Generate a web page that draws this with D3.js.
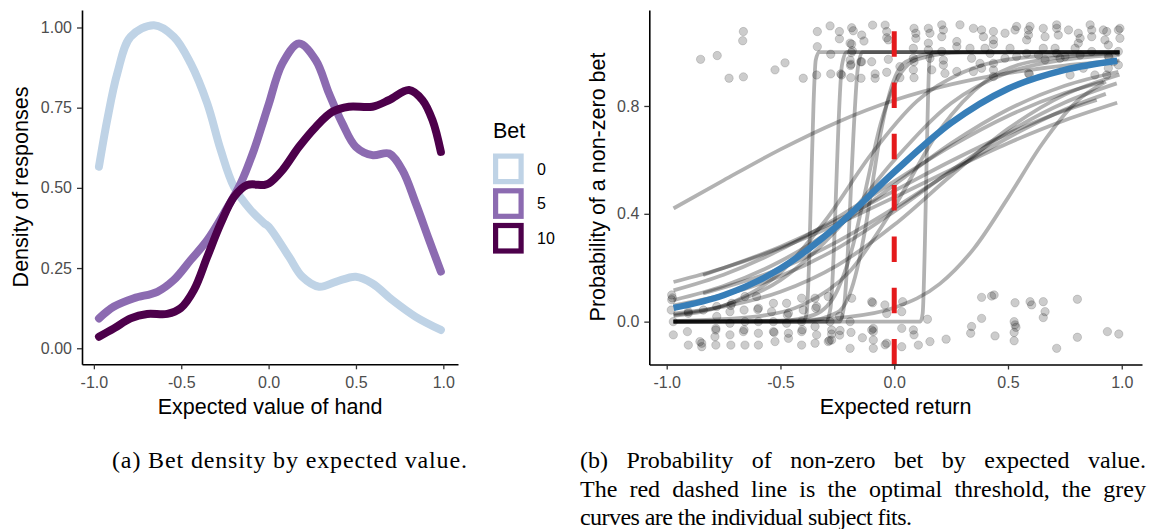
<!DOCTYPE html>
<html>
<head>
<meta charset="utf-8">
<script src="https://cdn.jsdelivr.net/npm/d3@7"></script>
<style>
  html, body { margin: 0; padding: 0; background: #fff; }
  svg { display: block; }
</style>
</head>
<body>
<svg id="fig" width="1149" height="529"></svg>
<script>
// ---------------------------------------------------------------
// Panel (a): density of responses by expected value, one curve per bet
// ---------------------------------------------------------------
const betLevels = ["0", "5", "10"];
const betColors = ["#BFD3E6", "#8C6BB1", "#4D004B"];

const densityBet0 = [
  [-0.971, 0.566], [-0.924, 0.711], [-0.866, 0.857], [-0.790, 0.971], [-0.656, 1.007],
  [-0.542, 0.971], [-0.446, 0.888], [-0.351, 0.763], [-0.274, 0.618], [-0.198, 0.503],
  [-0.103, 0.431], [-0.026, 0.390], [0.002, 0.378], [0.117, 0.285], [0.193, 0.223],
  [0.289, 0.192], [0.384, 0.207], [0.499, 0.223], [0.594, 0.202], [0.709, 0.150],
  [0.842, 0.098], [0.986, 0.057]
];
const densityBet5 = [
  [-0.971, 0.093], [-0.885, 0.130], [-0.771, 0.156], [-0.637, 0.176], [-0.542, 0.213],
  [-0.446, 0.275], [-0.351, 0.337], [-0.255, 0.421], [-0.160, 0.514], [-0.084, 0.618],
  [-0.026, 0.715], [0.002, 0.763], [0.079, 0.888], [0.174, 0.950], [0.270, 0.898],
  [0.346, 0.794], [0.422, 0.701], [0.499, 0.628], [0.594, 0.602], [0.690, 0.607],
  [0.766, 0.555], [0.842, 0.452], [0.919, 0.337], [0.986, 0.239]
];
const densityBet10 = [
  [-0.971, 0.036], [-0.885, 0.062], [-0.790, 0.093], [-0.695, 0.107], [-0.580, 0.107],
  [-0.503, 0.125], [-0.427, 0.182], [-0.351, 0.285], [-0.274, 0.389], [-0.198, 0.472],
  [-0.122, 0.509], [-0.026, 0.509], [0.002, 0.514], [0.079, 0.555], [0.174, 0.628],
  [0.270, 0.690], [0.365, 0.737], [0.460, 0.753], [0.594, 0.753], [0.690, 0.774],
  [0.804, 0.805], [0.880, 0.774], [0.938, 0.711], [0.986, 0.612]
];

const xTicksA = [-1, -0.5, 0, 0.5, 1];
const xTickLabelsA = ["-1.0", "-0.5", "0.0", "0.5", "1.0"];
const yTicksA = [0, 0.25, 0.5, 0.75, 1];
const yTickLabelsA = ["0.00", "0.25", "0.50", "0.75", "1.00"];

// ---------------------------------------------------------------
// Panel (b): probability of a non-zero bet by expected return
// ---------------------------------------------------------------
// jittered responses: [expected return, 1 = non-zero bet / 0 = zero bet]
const responsesBet = [
  [-0.851, 0.973], [-0.778, 0.987], [-0.726, 0.903], [-0.666, 1.042], [-0.663, 1.076],
  [-0.663, 0.908], [-0.524, 0.934], [-0.480, 0.960], [-0.400, 0.903], [-0.338, 1.076],
  [-0.338, 1.020], [-0.341, 0.915], [-0.282, 1.097], [-0.279, 0.992], [-0.279, 0.919],
  [-0.241, 1.076], [-0.241, 1.049], [-0.235, 0.919], [-0.231, 0.915], [-0.187, 1.090],
  [-0.180, 1.079], [-0.187, 1.029], [-0.184, 1.005], [-0.188, 0.998], [-0.194, 0.970],
  [-0.190, 0.955], [-0.192, 0.950], [-0.191, 0.905], [-0.194, 1.033], [-0.143, 1.063],
  [-0.133, 1.041], [-0.147, 0.964], [-0.146, 0.903], [-0.143, 0.964], [-0.099, 0.964],
  [-0.095, 1.100], [-0.084, 0.919], [-0.084, 0.903], [-0.040, 1.100], [-0.033, 1.076],
  [-0.033, 1.053], [-0.026, 0.973], [-0.033, 0.925], [-0.026, 1.045], [0.025, 0.946],
  [0.025, 0.905], [0.087, 1.088], [0.095, 1.070], [0.095, 1.051], [0.087, 0.964],
  [0.084, 0.934], [0.087, 0.905], [0.084, 1.014], [0.084, 0.977],
  [0.150, 1.088], [0.157, 1.070], [0.150, 1.033], [0.150, 1.008], [0.157, 0.977],
  [0.165, 0.934], [0.209, 1.101], [0.216, 1.082], [0.209, 1.057], [0.209, 1.002],
  [0.216, 0.952], [0.223, 0.921], [0.216, 0.970], [0.275, 1.039], [0.275, 1.020],
  [0.275, 0.928], [0.289, 1.101], [0.333, 1.014], [0.340, 0.977], [0.348, 0.928],
  [0.348, 1.088], [0.377, 0.958], [0.384, 0.940], [0.384, 1.082], [0.392, 1.057],
  [0.399, 1.014], [0.421, 0.995], [0.436, 1.076], [0.436, 1.045], [0.436, 1.029],
  [0.436, 0.958], [0.436, 0.934], [0.436, 0.909], [0.487, 1.070], [0.487, 0.977],
  [0.509, 1.014], [0.531, 1.082], [0.538, 1.095], [0.538, 0.983], [0.582, 1.045],
  [0.590, 1.082], [0.590, 1.063], [0.597, 1.095], [0.582, 0.995], [0.590, 0.921],
  [0.594, 0.918], [0.634, 0.989], [0.655, 1.088], [0.655, 1.014], [0.663, 1.057],
  [0.663, 0.971], [0.707, 1.014], [0.714, 1.101], [0.714, 1.088], [0.721, 1.063],
  [0.714, 0.995], [0.729, 0.977], [0.751, 0.983], [0.766, 1.082], [0.773, 0.915],
  [0.795, 1.014], [0.809, 1.070], [0.817, 1.051], [0.809, 1.033], [0.817, 0.989],
  [0.831, 0.940], [0.861, 1.101], [0.868, 1.082], [0.868, 1.057], [0.868, 1.002],
  [0.882, 0.915], [0.919, 1.082], [0.934, 1.076], [0.926, 1.045], [0.941, 1.026],
  [0.941, 0.940], [0.934, 0.915], [0.941, 0.985], [0.944, 0.980], [0.963, 0.964],
  [0.985, 1.082], [0.992, 1.088], [0.992, 1.051], [0.985, 1.002], [0.985, 0.952]
];
const responsesNoBet = [
  [-0.978, 0.099], [-0.978, 0.081], [-0.980, 0.043], [-0.971, 0.000], [-0.971, -0.049],
  [-0.975, 0.088], [-0.905, 0.037], [-0.909, -0.037], [-0.905, -0.087], [-0.905, 0.031],
  [-0.854, -0.074], [-0.846, -0.093], [-0.839, 0.043], [-0.846, -0.080], [-0.780, 0.056],
  [-0.780, 0.019], [-0.784, -0.031], [-0.788, -0.056], [-0.784, -0.087], [-0.784, -0.025],
  [-0.714, 0.068], [-0.722, 0.037], [-0.722, -0.006], [-0.722, -0.049], [-0.718, -0.087],
  [-0.718, 0.060], [-0.656, 0.093], [-0.660, 0.043], [-0.656, 0.000], [-0.663, -0.037],
  [-0.656, -0.087], [-0.660, -0.030], [-0.605, 0.093], [-0.597, 0.050], [-0.597, 0.000],
  [-0.597, -0.043], [-0.597, -0.087], [-0.600, 0.045], [-0.531, 0.068], [-0.539, 0.037],
  [-0.531, 0.000], [-0.531, -0.037], [-0.524, -0.074], [-0.528, -0.040], [-0.473, 0.068],
  [-0.465, 0.031], [-0.473, -0.006], [-0.465, -0.043], [-0.465, -0.062], [-0.470, 0.025],
  [-0.407, 0.087], [-0.400, 0.043], [-0.407, 0.000], [-0.407, -0.037], [-0.407, -0.087],
  [-0.404, -0.030], [-0.348, 0.087], [-0.341, 0.056], [-0.348, -0.018], [-0.341, -0.049],
  [-0.348, -0.080], [-0.345, 0.050], [-0.290, 0.093], [-0.282, 0.000], [-0.275, -0.031],
  [-0.290, -0.074], [-0.275, -0.068], [-0.285, -0.070], [-0.275, -0.046], [-0.240, -0.050],
  [-0.240, 0.020], [-0.238, -0.033], [-0.187, 0.087], [-0.194, -0.099], [-0.190, -0.040],
  [-0.194, 0.000], [-0.140, -0.060], [-0.099, 0.074], [-0.095, 0.070], [-0.099, -0.031],
  [-0.092, -0.068], [-0.092, -0.099], [-0.092, -0.025], [-0.092, -0.037], [-0.041, 0.062],
  [-0.033, -0.080], [-0.033, 0.030], [-0.040, -0.086],
  [0.037, 0.074], [0.033, 0.037], [0.033, -0.025], [0.084, -0.031], [0.087, -0.049],
  [0.033, -0.093], [0.106, -0.087], [0.146, 0.009], [0.157, -0.074], [0.228, -0.065],
  [0.340, -0.018], [0.336, -0.043], [0.384, 0.090], [0.428, 0.095], [0.439, 0.099],
  [0.384, 0.012], [0.443, -0.053], [0.531, 0.070], [0.527, 0.000], [0.531, -0.012],
  [0.535, -0.021], [0.527, -0.040], [0.527, -0.071], [0.597, 0.074], [0.604, 0.062],
  [0.655, 0.074], [0.663, 0.037], [0.655, 0.015], [0.714, -0.099], [0.805, 0.083],
  [0.805, -0.058], [0.937, -0.037], [0.987, -0.046]
];

// individual subject fits: [expected return, fitted probability]
const subjectFits = [
  [[-0.97, 0.420], [-0.75, 0.524], [-0.5, 0.639], [-0.25, 0.740], [0, 0.821], [0.25, 0.880], [0.5, 0.922], [0.75, 0.950], [0.99, 0.968]],
  [[-0.97, 0.147], [-0.75, 0.199], [-0.5, 0.273], [-0.25, 0.362], [0, 0.461], [0.25, 0.564], [0.5, 0.662], [0.75, 0.747], [0.98, 0.812]],
  [[-0.97, 0.116], [-0.75, 0.174], [-0.5, 0.267], [-0.25, 0.386], [0, 0.520], [0.25, 0.651], [0.5, 0.763], [0.75, 0.848], [0.92, 0.890]],
  [[-0.84, 0.173], [-0.5, 0.278], [-0.25, 0.376], [0, 0.485], [0.25, 0.596], [0.5, 0.697], [0.75, 0.783], [0.89, 0.822]],
  [[-0.84, 0.105], [-0.5, 0.197], [-0.25, 0.297], [0, 0.421], [0.25, 0.556], [0.5, 0.682], [0.75, 0.787], [0.93, 0.845]],
  [[-0.97, 0.080], [-0.75, 0.132], [-0.5, 0.224], [-0.25, 0.353], [0, 0.507], [0.25, 0.661], [0.5, 0.787], [0.75, 0.875], [0.985, 0.927]],
  [[-0.97, 0.030], [-0.75, 0.056], [-0.5, 0.111], [-0.25, 0.209], [0, 0.359], [0.25, 0.542], [0.5, 0.715], [0.75, 0.842], [0.99, 0.916]],
  [[-0.97, 0.060], [-0.75, 0.099], [-0.5, 0.169], [-0.25, 0.272], [0, 0.409], [0.25, 0.560], [0.5, 0.702], [0.75, 0.813], [0.978, 0.884]],
  [[-0.97, 0.025], [-0.75, 0.060], [-0.5, 0.154], [-0.25, 0.343], [0, 0.599], [0.25, 0.810], [0.5, 0.924], [0.75, 0.972], [0.99, 0.990]],
  [[-0.97, 0.000], [-0.4, 0.0013], [-0.25, 0.034], [-0.18, 0.142], [-0.13, 0.331], [-0.098, 0.500], [-0.06, 0.698], [-0.02, 0.848], [0.05, 0.963], [0.2, 0.9986], [0.99, 1.000]],
  [[-0.97, 0.000], [-0.5, 0.0024], [-0.35, 0.026], [-0.25, 0.116], [-0.18, 0.287], [-0.123, 0.500], [-0.06, 0.733], [0, 0.877], [0.1, 0.973], [0.3, 0.9988], [0.99, 1.000]],
  [[-0.97, 0.0003], [-0.5, 0.0035], [-0.2, 0.0177], [0, 0.0514], [0.2, 0.140], [0.35, 0.271], [0.5, 0.459], [0.65, 0.659], [0.8, 0.815], [0.93, 0.890]],
  [[-0.97, 0.0022], [-0.6, 0.0198], [-0.4, 0.063], [-0.2, 0.182], [0, 0.426], [0.2, 0.711], [0.4, 0.891], [0.6, 0.964], [0.99, 0.9965]],
  [[-0.97, 0.021], [-0.7, 0.076], [-0.5, 0.182], [-0.3, 0.378], [-0.1, 0.622], [0.1, 0.818], [0.3, 0.924], [0.6, 0.982], [0.99, 0.9974]],
  [[-0.97, 0], [-0.40, 0], [-0.385, 0.03], [-0.375, 0.2], [-0.365, 0.5], [-0.355, 0.8], [-0.345, 0.97], [-0.33, 1], [0.99, 1]],
  [[-0.97, 0], [-0.30, 0], [-0.28, 0.05], [-0.265, 0.27], [-0.255, 0.5], [-0.245, 0.73], [-0.23, 0.95], [-0.21, 1], [0.99, 1]],
  [[-0.97, 0], [-0.24, 0], [-0.22, 0.06], [-0.20, 0.32], [-0.19, 0.5], [-0.18, 0.68], [-0.16, 0.94], [-0.14, 1], [0.99, 1]],
  [[-0.97, 0], [0.115, 0], [0.125, 0.03], [0.135, 0.3], [0.14, 0.5], [0.145, 0.7], [0.155, 0.97], [0.17, 1], [0.99, 1]]
];

// pooled fit across all subjects
const pooledFit = [
  [-0.97, 0.051], [-0.75, 0.098], [-0.5, 0.197], [-0.25, 0.356], [0, 0.555],
  [0.25, 0.737], [0.5, 0.864], [0.75, 0.934], [0.98, 0.968]
];

const optimalThreshold = 0;

const xTicksB = [-1, -0.5, 0, 0.5, 1];
const xTickLabelsB = ["-1.0", "-0.5", "0.0", "0.5", "1.0"];
const yTicksB = [0, 0.4, 0.8];
const yTickLabelsB = ["0.0", "0.4", "0.8"];

// ---------------------------------------------------------------
const SANS = "'Liberation Sans', Arial, Helvetica, sans-serif";
const SERIF = "'Liberation Serif', 'Times New Roman', serif";
const TITLE_SIZE = 21.5;
const svg = d3.select("#fig");

function styleAxis(g) {
  g.select(".domain").attr("stroke", "#000").attr("stroke-width", 1.6);
  g.selectAll(".tick line").attr("stroke", "#333").attr("stroke-width", 1.3);
  g.selectAll(".tick text")
    .attr("fill", "#4D4D4D")
    .attr("font-size", 16)
    .attr("font-family", SANS);
}

// ----- panel (a)
const xA = d3.scaleLinear().domain([-1.068, 1.084]).range([82, 458]);
const yA = d3.scaleLinear().domain([-0.05, 1.0545]).range([364.3, 10]);

const gA = svg.append("g");

const densityLine = d3.line()
  .x(d => xA(d[0]))
  .y(d => yA(d[1]))
  .curve(d3.curveCatmullRom.alpha(0.5));

[densityBet0, densityBet5, densityBet10].forEach((series, i) => {
  gA.append("path")
    .datum(series)
    .attr("d", densityLine)
    .attr("fill", "none")
    .attr("stroke", betColors[i])
    .attr("stroke-width", 8)
    .attr("stroke-linecap", "round")
    .attr("stroke-linejoin", "round");
});

gA.append("g")
  .attr("transform", "translate(0,364.3)")
  .call(d3.axisBottom(xA).tickValues(xTicksA)
    .tickFormat((d, i) => xTickLabelsA[i])
    .tickSize(5).tickSizeOuter(0).tickPadding(7))
  .call(styleAxis);

gA.append("g")
  .attr("transform", "translate(82,0)")
  .call(d3.axisLeft(yA).tickValues(yTicksA)
    .tickFormat((d, i) => yTickLabelsA[i])
    .tickSize(5).tickSizeOuter(0).tickPadding(5))
  .call(styleAxis);

gA.append("text")
  .attr("x", 270).attr("y", 414)
  .attr("text-anchor", "middle")
  .attr("font-family", SANS).attr("font-size", TITLE_SIZE)
  .text("Expected value of hand");

gA.append("text")
  .attr("transform", "translate(28,187) rotate(-90)")
  .attr("text-anchor", "middle")
  .attr("font-family", SANS).attr("font-size", TITLE_SIZE)
  .text("Density of responses");

// legend
const legend = gA.append("g").attr("transform", "translate(493,0)");
legend.append("text")
  .attr("x", 0).attr("y", 138)
  .attr("font-family", SANS).attr("font-size", TITLE_SIZE)
  .text("Bet");
betLevels.forEach((lvl, i) => {
  const top = 153.5 + i * 34.7;
  legend.append("rect")
    .attr("x", 2.6).attr("y", top + 2.6)
    .attr("width", 25.5).attr("height", 25.5)
    .attr("fill", "#fff")
    .attr("stroke", betColors[i])
    .attr("stroke-width", 5.2);
  legend.append("text")
    .attr("x", 44).attr("y", top + 15.4)
    .attr("dy", "0.36em")
    .attr("font-family", SANS).attr("font-size", 16)
    .attr("fill", "#000")
    .text(lvl);
});

// ----- panel (b)
const xB = d3.scaleLinear().domain([-1.0765, 1.089]).range([649.3, 1142]);
const yB = d3.scaleLinear().domain([-0.159, 1.156]).range([364.5, 10]);

const gB = svg.append("g");

gB.append("g")
  .selectAll("circle")
  .data(responsesBet.concat(responsesNoBet))
  .join("circle")
  .attr("cx", d => xB(d[0]))
  .attr("cy", d => yB(d[1]))
  .attr("r", 4.2)
  .attr("fill", "#000").attr("fill-opacity", 0.2)
  .attr("stroke", "#000").attr("stroke-opacity", 0.18).attr("stroke-width", 0.8);

const fitLine = d3.line()
  .x(d => xB(d[0]))
  .y(d => yB(d[1]))
  .curve(d3.curveMonotoneX);

gB.append("g")
  .selectAll("path")
  .data(subjectFits)
  .join("path")
  .attr("d", fitLine)
  .attr("fill", "none")
  .attr("stroke", "#000")
  .attr("stroke-opacity", 0.3)
  .attr("stroke-width", 3.8)
  .attr("stroke-linejoin", "round");

gB.append("path")
  .datum(pooledFit)
  .attr("d", fitLine)
  .attr("fill", "none")
  .attr("stroke", "#377EB8")
  .attr("stroke-width", 6.5);

// optimal threshold, dashes laid out from the bottom of the panel
gB.append("path")
  .attr("d", d3.line()([[xB(optimalThreshold), yB.range()[0]], [xB(optimalThreshold), yB.range()[1]]]))
  .attr("stroke", "#E41A1C")
  .attr("stroke-width", 5)
  .attr("stroke-dasharray", "25.5 25.8");

gB.append("g")
  .attr("transform", "translate(0,364.5)")
  .call(d3.axisBottom(xB).tickValues(xTicksB)
    .tickFormat((d, i) => xTickLabelsB[i])
    .tickSize(5).tickSizeOuter(0).tickPadding(7))
  .call(styleAxis);

gB.append("g")
  .attr("transform", "translate(649.3,0)")
  .call(d3.axisLeft(yB).tickValues(yTicksB)
    .tickFormat((d, i) => yTickLabelsB[i])
    .tickSize(5).tickSizeOuter(0).tickPadding(5))
  .call(styleAxis);

gB.append("text")
  .attr("x", 895.6).attr("y", 414)
  .attr("text-anchor", "middle")
  .attr("font-family", SANS).attr("font-size", TITLE_SIZE)
  .text("Expected return");

gB.append("text")
  .attr("transform", "translate(605,187) rotate(-90)")
  .attr("text-anchor", "middle")
  .attr("font-family", SANS).attr("font-size", TITLE_SIZE)
  .text("Probability of a non-zero bet");

// ----- captions
const capSize = 24;
svg.append("text")
  .attr("x", 112).attr("y", 468)
  .attr("font-family", SERIF).attr("font-size", capSize)
  .attr("textLength", 355).attr("lengthAdjust", "spacing")
  .text("(a) Bet density by expected value.");

// justified lines: spread the words over the full line width
function justifiedLine(str, x0, y, width) {
  const words = str.split(" ");
  const t = svg.append("text")
    .attr("y", y)
    .attr("font-family", SERIF).attr("font-size", capSize);
  const spans = words.map(w => t.append("tspan").text(w));
  const widths = spans.map(s => s.node().getComputedTextLength());
  const gap = (width - d3.sum(widths)) / (words.length - 1);
  let x = x0;
  spans.forEach((s, i) => { s.attr("x", x); x += widths[i] + gap; });
}
justifiedLine("(b) Probability of non-zero bet by expected value.", 580, 468, 566);
justifiedLine("The red dashed line is the optimal threshold, the grey", 580, 497, 566);
svg.append("text")
  .attr("x", 580).attr("y", 525)
  .attr("font-family", SERIF).attr("font-size", capSize)
  .attr("textLength", 332).attr("lengthAdjust", "spacing")
  .text("curves are the individual subject fits.");
</script>
</body>
</html>
